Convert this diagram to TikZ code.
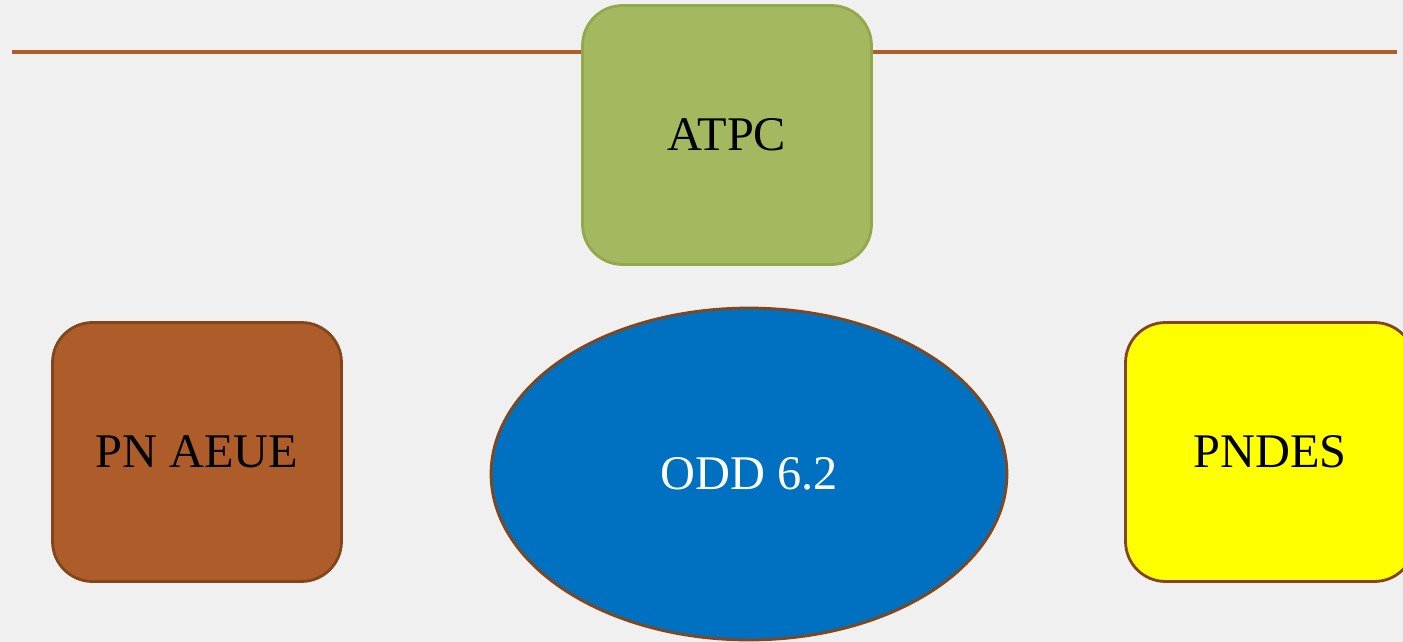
\documentclass[tikz,border=0pt]{standalone}
\usepackage{fontspec}
\setmainfont{Liberation Serif}
\usetikzlibrary{shapes.geometric}
\definecolor{paper}{RGB}{240,240,240}
\definecolor{rulebrown}{RGB}{180,92,38}
\definecolor{olivefill}{RGB}{164,184,95}
\definecolor{olivedraw}{RGB}{145,168,75}
\definecolor{rustfill}{RGB}{174,92,42}
\definecolor{darkbrown}{RGB}{130,70,28}
\definecolor{oddblue}{RGB}{0,112,192}
\definecolor{brightyellow}{RGB}{255,255,0}
\tikzset{card/.style={rounded corners=0.8cm,line width=1.6pt,minimum width=5.78cm,minimum height=5.18cm,font=\fontsize{27.5}{30}\selectfont}}

\begin{document}
\begin{tikzpicture}[x=0.02cm,y=-0.02cm]
\tikzset{goal/.style={ellipse,line width=1.6pt,minimum width=10.32cm,minimum height=6.64cm,font=\fontsize{27.5}{30}\selectfont}}
\fill[paper] (0,0) rectangle (1403,642);
\useasboundingbox (0,0) rectangle (1403,642);
\clip (0,0) rectangle (1403,642);
% rule across the top
\coordinate (ruleL) at (12,52);
\coordinate (ruleR) at (1397,52);
\draw[rulebrown,line width=2.2pt] (ruleL) -- (ruleR);
% boxes
\node[card,fill=olivefill,draw=olivedraw] (atpc) at (727,135) {ATPC};
\node[card,fill=rustfill,draw=darkbrown] (pnaeue) at (197,452) {PN AEUE};
\node[card,fill=brightyellow,draw=darkbrown] (pndes) at (1270,452) {PNDES};
\node[goal,fill=oddblue,draw=darkbrown,text=white] (odd) at (749,474) {ODD 6.2};
\end{tikzpicture}
\end{document}
